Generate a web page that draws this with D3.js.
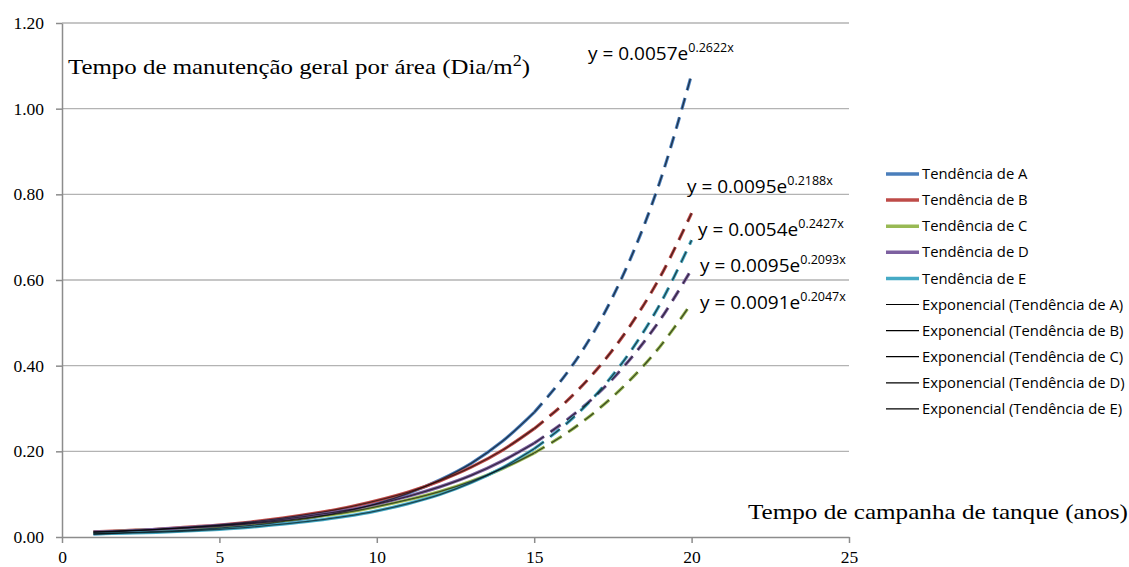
<!DOCTYPE html>
<html><head><meta charset="utf-8">
<script src="https://cdn.jsdelivr.net/npm/d3@7"></script>
<style>body{margin:0;background:#fff}svg{display:block}</style>
</head><body>
<svg id="c" width="1129" height="567"></svg>
<script>
const years = [1,2,3,4,5,6,7,8,9,10,11,12,13,14,15,16,17,18,19,20];
const serieA = [0.007,0.010,0.013,0.016,0.021,0.027,0.036,0.046,0.060,0.078,0.102,0.133,0.172,0.224,0.291,0.379,0.492,0.640,0.831,1.080];
const serieB = [0.012,0.015,0.018,0.023,0.028,0.035,0.044,0.055,0.068,0.085,0.105,0.131,0.163,0.203,0.253,0.315,0.392,0.488,0.607,0.756];
const serieC = [0.011,0.014,0.017,0.021,0.025,0.031,0.038,0.047,0.057,0.071,0.087,0.106,0.130,0.160,0.196,0.241,0.296,0.363,0.445,0.546];
const serieD = [0.012,0.014,0.018,0.022,0.027,0.033,0.041,0.051,0.062,0.077,0.095,0.117,0.144,0.178,0.219,0.271,0.333,0.411,0.507,0.625];
const serieE = [0.007,0.009,0.011,0.014,0.018,0.023,0.030,0.038,0.048,0.061,0.078,0.099,0.127,0.162,0.206,0.263,0.335,0.427,0.544,0.693];
const seriesNames = ["Tendência de A","Tendência de B","Tendência de C","Tendência de D","Tendência de E"];
const trendNames = ["Exponencial (Tendência de A)","Exponencial (Tendência de B)","Exponencial (Tendência de C)","Exponencial (Tendência de D)","Exponencial (Tendência de E)"];
const equations = [["y = 0.0057e","0.2622x"],["y = 0.0095e","0.2188x"],["y = 0.0054e","0.2427x"],["y = 0.0095e","0.2093x"],["y = 0.0091e","0.2047x"]];
const xTicks = [0,5,10,15,20,25];
const yTicks = [0,0.2,0.4,0.6,0.8,1.0,1.2];
const projectionStart = 15;

const colors = ["#4a7ebb","#be4b48","#98b954","#7d60a0","#46aac5"];
const allSeries = [serieA,serieB,serieC,serieD,serieE];

const svg = d3.select("#c");
const x = d3.scaleLinear().domain([0,25]).range([62,849]);
const y = d3.scaleLinear().domain([0,1.2]).range([537,23]);

// gridlines
svg.append("g").selectAll("line").data(yTicks.filter(d=>d>0)).join("line")
  .attr("x1",62).attr("x2",849).attr("y1",d=>y(d)).attr("y2",d=>y(d))
  .attr("stroke","#b3b3b3").attr("stroke-width",1.3);

// axes
const gx = svg.append("g").attr("transform","translate(0,537)")
  .call(d3.axisBottom(x).tickValues(xTicks).tickFormat(d3.format("d")).tickSize(6).tickSizeOuter(0));
const gy = svg.append("g").attr("transform","translate(62,0)")
  .call(d3.axisLeft(y).tickValues(yTicks).tickFormat(d3.format(".2f")).tickSize(6).tickSizeOuter(0));
[gx,gy].forEach(g=>{
  g.select(".domain").attr("stroke","#8c8c8c").attr("stroke-width",1.5);
  g.selectAll(".tick line").attr("stroke","#8c8c8c").attr("stroke-width",1.5);
  g.selectAll("text").attr("font-family","'Liberation Serif'").attr("font-size",17.5).attr("fill","#000");
});
gx.selectAll("text").attr("dy","0.95em");
gy.selectAll("text").attr("x",-18).attr("dy","0.32em");

const line = d3.line().x(d=>x(d[0])).y(d=>y(d[1])).curve(d3.curveCatmullRom);
const plot = svg.append("g");
allSeries.forEach((s,i)=>{
  const pts = years.map((yr,j)=>[yr,s[j]]);
  const solid = pts.filter(p=>p[0]<=projectionStart);
  const dashed = pts.filter(p=>p[0]>=projectionStart);
  plot.append("path").attr("d",line(solid)).attr("fill","none").attr("stroke",colors[i]).attr("stroke-width",3.2);
  plot.append("path").attr("d",line(dashed)).attr("fill","none").attr("stroke",colors[i]).attr("stroke-width",3.2).attr("stroke-dasharray","12,8");
});
allSeries.forEach((s,i)=>{
  const pts = years.map((yr,j)=>[yr,s[j]]);
  const solid = pts.filter(p=>p[0]<=projectionStart);
  const dashed = pts.filter(p=>p[0]>=projectionStart);
  plot.append("path").attr("d",line(solid)).attr("fill","none").attr("stroke","#000").attr("stroke-opacity",0.6).attr("stroke-width",1.3);
  plot.append("path").attr("d",line(dashed)).attr("fill","none").attr("stroke","#000").attr("stroke-opacity",0.6).attr("stroke-width",1.3).attr("stroke-dasharray","12,8");
});

// equation labels
const eqPos = [[588,60],[687,193],[698,236],[700,272],[700,309]];
equations.forEach((e,i)=>{
  const t = svg.append("text").attr("x",eqPos[i][0]).attr("y",eqPos[i][1])
    .attr("font-family","'Open Sans'").attr("font-size",19).attr("fill","#000");
  t.append("tspan").text(e[0]);
  t.append("tspan").text(e[1]).attr("font-size",12.5).attr("dy",-8);
});

// axis titles
const yt = svg.append("text").attr("x",68).attr("y",74).attr("font-family","'Liberation Serif'").attr("font-size",22).attr("fill","#000")
  .attr("textLength",462).attr("lengthAdjust","spacingAndGlyphs");
yt.append("tspan").text("Tempo de manutenção geral por área (Dia/m");
yt.append("tspan").text("2").attr("font-size",16).attr("dy",-8);
yt.append("tspan").text(")").attr("dy",8);
svg.append("text").attr("x",748).attr("y",519)
  .attr("font-family","'Liberation Serif'").attr("font-size",22).attr("fill","#000")
  .attr("textLength",380).attr("lengthAdjust","spacingAndGlyphs")
  .text("Tempo de campanha de tanque (anos)");

// legend
const legendItems = seriesNames.map((n,i)=>({name:n,color:colors[i],w:3.5}))
  .concat(trendNames.map(n=>({name:n,color:"#000",w:1.2})));
const lg = svg.append("g");
legendItems.forEach((d,i)=>{
  const cy = 174 + i*26.1;
  lg.append("line").attr("x1",886).attr("x2",919).attr("y1",cy).attr("y2",cy).attr("stroke",d.color).attr("stroke-width",d.w);
  lg.append("text").attr("x",922).attr("y",cy).attr("dy","0.35em").attr("font-family","'Open Sans'").attr("font-size",14.8).attr("fill","#000").text(d.name);
});
</script>
</body></html>
